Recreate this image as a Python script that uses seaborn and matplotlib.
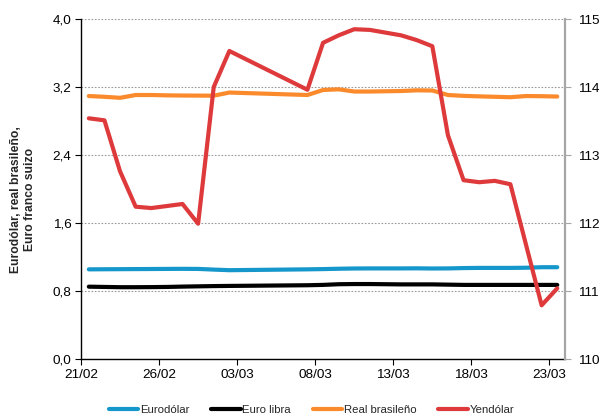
import numpy as np
import pandas as pd
import matplotlib
matplotlib.use("Agg")
import matplotlib.pyplot as plt
import seaborn as sns

# Daily quotes (3-6 March not available)
fechas = (list(pd.date_range("2017-02-21", "2017-03-02", freq="D"))
          + list(pd.date_range("2017-03-07", "2017-03-23", freq="D")))

eurodolar = [1.055, 1.056, 1.057, 1.058, 1.059, 1.060, 1.061, 1.060, 1.052, 1.045,
             1.055, 1.058, 1.062, 1.065, 1.066, 1.066, 1.066, 1.067, 1.065, 1.066,
             1.070, 1.072, 1.072, 1.072, 1.074, 1.080, 1.080]
euro_libra = [0.851, 0.848, 0.845, 0.845, 0.846, 0.848, 0.852, 0.855, 0.858, 0.860,
              0.868, 0.872, 0.880, 0.882, 0.882, 0.880, 0.878, 0.878, 0.878, 0.875,
              0.872, 0.872, 0.872, 0.872, 0.872, 0.872, 0.872]
real_brasileno = [3.094, 3.085, 3.073, 3.106, 3.106, 3.102, 3.100, 3.099, 3.098, 3.135,
                  3.106, 3.165, 3.173, 3.147, 3.147, 3.150, 3.153, 3.161, 3.159, 3.106,
                  3.096, 3.090, 3.085, 3.080, 3.094, 3.092, 3.088]
yendolar = [113.54, 113.51, 112.76, 112.24, 112.22, 112.25, 112.28, 111.99, 114.00, 114.53,
            113.96, 114.65, 114.76, 114.85, 114.84, 114.80, 114.76, 114.69, 114.60, 113.29,
            112.63, 112.60, 112.62, 112.57, 111.68, 110.79, 111.04]

etiquetas_x = ["21/02", "26/02", "03/03", "08/03", "13/03", "18/03", "23/03"]
ticks_izq = [0.0, 0.8, 1.6, 2.4, 3.2, 4.0]
ticks_der = [110, 111, 112, 113, 114, 115]

colores = {"Eurodólar": "#1597CB", "Euro libra": "#000000",
           "Real brasileño": "#FA8A2B", "Yendólar": "#DE3A3C"}

sns.set_theme(style="white")
plt.rcParams["font.family"] = ["Liberation Sans", "DejaVu Sans"]

# Each day's value sits in the middle of its day slot
df = pd.DataFrame({
    "fecha": pd.to_datetime(fechas) + pd.Timedelta(hours=12),
    "Eurodólar": eurodolar,
    "Euro libra": euro_libra,
    "Real brasileño": real_brasileno,
    "Yendólar": yendolar,
})

fig = plt.figure(figsize=(6.01, 4.18), dpi=100)
ax = fig.add_axes([0.1348, 0.1411, 0.8054, 0.8134])
ax2 = ax.twinx()

lw = 3.0
for serie in ["Eurodólar", "Euro libra", "Real brasileño"]:
    sns.lineplot(data=df, x="fecha", y=serie, ax=ax, color=colores[serie],
                 linewidth=lw, label=serie, legend=False,
                 solid_capstyle="round", solid_joinstyle="round")
sns.lineplot(data=df, x="fecha", y="Yendólar", ax=ax2, color=colores["Yendólar"],
             linewidth=lw, label="Yendólar", legend=False,
             solid_capstyle="round", solid_joinstyle="round")

inicio = pd.Timestamp("2017-02-21")
ax.set_xlim(inicio, pd.Timestamp("2017-03-24"))
ax.set_xticks([inicio + pd.Timedelta(days=5 * i) for i in range(len(etiquetas_x))])
ax.set_xticklabels(etiquetas_x)

ax.set_ylim(0, 4.0)
ax.set_yticks(ticks_izq)
ax.set_yticklabels([f"{v:.1f}".replace(".", ",") for v in ticks_izq])
ax2.set_ylim(110, 115)
ax2.set_yticks(ticks_der)
ax2.set_yticklabels([str(v) for v in ticks_der])

ax.set_xlabel("")
ax2.set_ylabel("")
ax.set_ylabel("Eurodólar, real brasileño,\nEuro franco suizo", fontsize=8.7,
              fontweight="bold", linespacing=1.25)
ax.yaxis.set_label_coords(-0.093, 0.47)

ax.yaxis.grid(True, linestyle=(0, (1.5, 1.5)), color="#9a9a9a", linewidth=0.8)
ax.set_axisbelow(True)

for a in (ax, ax2):
    a.spines["top"].set_visible(False)
    a.patch.set_visible(False)
ax.spines["right"].set_visible(False)
ax.spines["left"].set_color("#000000")
ax.spines["bottom"].set_color("#000000")
ax.spines["left"].set_linewidth(1.0)
ax.spines["bottom"].set_linewidth(1.0)
ax2.spines["left"].set_visible(False)
ax2.spines["bottom"].set_visible(False)
ax2.spines["right"].set_color("#a6a6a6")
ax2.spines["right"].set_linewidth(1.6)

ax.tick_params(axis="both", which="major", direction="out", length=4, width=0.8,
               colors="#000000", labelsize=9.7, pad=3)
ax.tick_params(axis="y", left=True, right=False)
ax.tick_params(axis="x", bottom=True)
ax2.tick_params(axis="y", right=True, direction="out", length=4, width=0.8,
                color="#a6a6a6", labelcolor="#000000", labelsize=9.7, pad=5)

handles = ax.get_lines()[:3] + ax2.get_lines()[:1]
labels = ["Eurodólar", "Euro libra", "Real brasileño", "Yendólar"]
fig.legend(handles, labels, loc="center", bbox_to_anchor=(0.518, 0.018), ncol=4,
           frameon=False, fontsize=8.2, handlelength=2.6, handletextpad=0.15,
           columnspacing=1.9, borderpad=0)

fig.savefig("out.png", dpi=100)
